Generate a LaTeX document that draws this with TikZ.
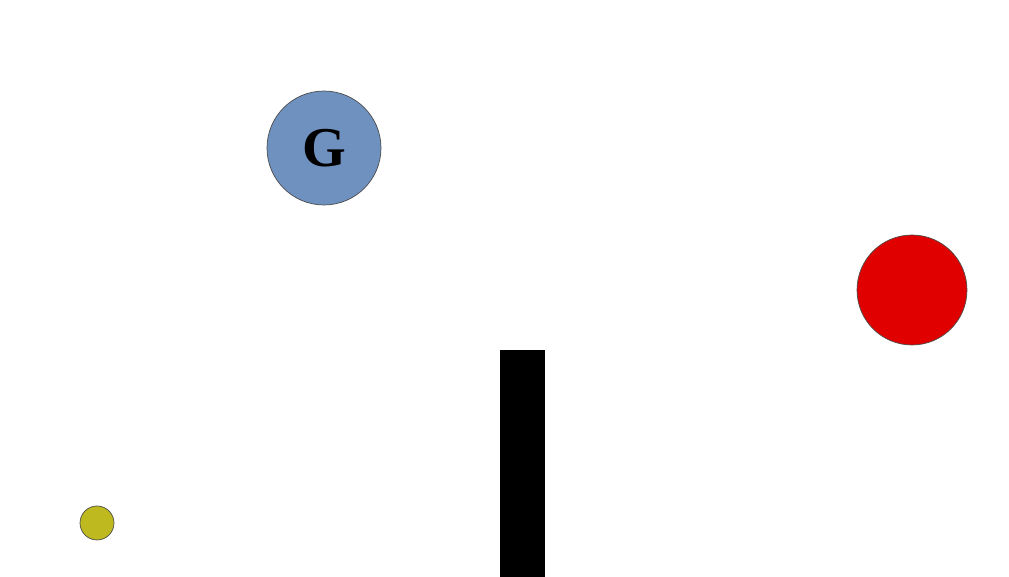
\documentclass[tikz,border=0pt]{standalone}
\usepackage{xcolor}
\usepackage{fontspec}
\setmainfont{Liberation Serif}
\usetikzlibrary{positioning}
\definecolor{goalblue}{RGB}{110,145,192}
\definecolor{agentred}{RGB}{225,0,0}
\definecolor{startyellow}{RGB}{190,185,30}
\begin{document}
\begin{tikzpicture}[
  x=0.02cm,y=-0.02cm,
  ball/.style={circle,draw=black!70,line width=0.4pt,inner sep=0pt},
  wall/.style={fill=black,draw=none}
]
\useasboundingbox (0,0) rectangle (1009,577);
\node[ball,fill=goalblue,minimum size=2.28cm,font=\fontsize{32}{38}\selectfont\bfseries] (goal) at (324,148) {G};
\node[ball,fill=agentred,minimum size=2.2cm] (agent) at (912,290) {};
\node[ball,fill=startyellow,minimum size=0.68cm] (start) at (97,523) {};
\path[wall] (500,350) rectangle (545,577);
\end{tikzpicture}
\end{document}
